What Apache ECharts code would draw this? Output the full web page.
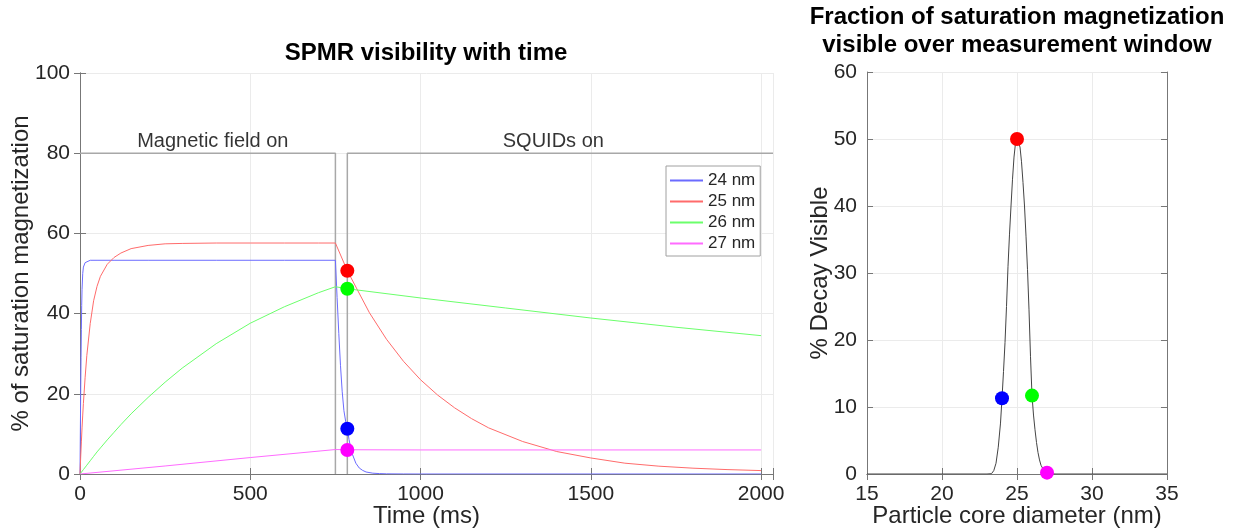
<!DOCTYPE html>
<html><head><meta charset="utf-8">
<script src="https://cdn.jsdelivr.net/npm/echarts@6.0.0/dist/echarts.min.js"></script>
<style>html,body{margin:0;padding:0;background:#fff}#c{width:1238px;height:531px}</style>
</head><body><div id="c"></div>
<script>
// ---- data ----
const seriesNames = ['24 nm', '25 nm', '26 nm', '27 nm'];
const lineColors = ['#6b6bff', '#ff6b6b', '#6bff6b', '#ff6bff'];
const dotColors = ['#0000ff', '#ff0000', '#00ff00', '#ff00ff'];

const t24 = [0,1,2,3,4,5,6,8,10,15,20,30,50,100,200,400,600,750,755,760,765,770,775,780,785,790,795,800,810,820,830,840,860,880,900,950,1000,1500,2000];
const v24 = [0,10,20,29,36,42,46,50,51.6,52.7,53.1,53.3,53.3,53.3,53.3,53.3,53.3,53.3,44,35,27,20.5,15.8,13.2,11.3,8.6,6.5,4.9,2.7,1.5,0.9,0.5,0.2,0.1,0.04,0.01,0,0,0];

const t25 = [0,2,4,6,8,10,15,20,30,40,50,60,80,100,120,150,200,250,300,400,500,600,700,750,785,850,900,950,1000,1050,1100,1150,1200,1300,1400,1500,1600,1700,1800,1900,2000];
const v25 = [0,4.2,8.0,11.5,14.7,17.6,24,29.5,37.5,43.2,46.8,49.3,52.3,54.0,55.1,56.2,57.0,57.4,57.5,57.6,57.6,57.6,57.6,57.6,50.7,40.2,33.6,28.1,23.5,19.7,16.5,13.8,11.5,8.1,5.6,4.0,2.7,1.95,1.45,1.1,0.85];

const t26 = [0,10,20,30,40,50,60,80,100,120,150,200,250,300,400,500,600,700,750,785,1000,1250,1500,1750,2000];
const v26 = [0,1.1,2.2,3.3,4.4,5.5,6.5,8.5,10.4,12.3,15.0,19.1,22.9,26.4,32.5,37.6,41.7,45.2,46.7,46.2,43.9,41.4,38.9,36.6,34.5];

const t27 = [0,250,500,750,785,1000,1500,2000];
const v27 = [0,2.0,4.1,6.1,6.05,6.0,6.0,6.0];

const dotTime = [785, 785, 785, 785];
const dotMag = [11.3, 50.7, 46.2, 6.0];

const fieldOnBoxT = [0, 750, 750];
const fieldOnBoxV = [80, 80, 0];
const squidBoxT = [785, 785, 2035];
const squidBoxV = [0, 80, 80];
const phaseLabels = ['Magnetic field on', 'SQUIDs on'];
const phaseLabelT = [390, 1390];
const phaseLabelV = [80, 80];

const diameters = [15,20,23,23.3,23.45,23.6,23.75,23.9,24,24.1,24.2,24.3,24.4,24.5,24.6,24.7,24.8,24.9,25,25.1,25.2,25.3,25.4,25.5,25.6,25.7,25.8,25.9,26,26.1,26.2,26.3,26.4,26.5,26.6,26.8,27,27.3,27.6,30,35];
const visible = [0,0,0,0.05,0.5,1.6,4.0,7.6,11.3,15.3,19.6,25.0,31.0,35.8,40.0,44.0,47.3,49.4,50.0,49.8,48.8,46.6,43.5,40.0,35.5,30.5,24.5,17.5,11.7,8.8,6.6,4.7,3.2,2.1,1.3,0.5,0.15,0.02,0,0,0];
const dotDiam = [24, 25, 26, 27];
const dotVis = [11.3, 50.0, 11.7, 0.2];

// ---- chart ----
const FONT = '"Liberation Sans", Arial, Helvetica, sans-serif';
const zip = (a, b) => a.map((x, i) => [x, b[i]]);
const axisCol = '#777';
const txtCol = '#262626';
const gridCol = '#ebebeb';

function mainX(grid, min, max, interval, name, step) {
  return {
    type: 'value', gridIndex: grid, min, max, interval,
    name, nameLocation: 'middle', nameGap: 30, nameMoveOverlap: false,
    nameTextStyle: { fontSize: 24, color: txtCol, fontFamily: FONT },
    axisLine: { show: true, lineStyle: { color: axisCol } },
    axisTick: { show: true, inside: true, length: 6, lineStyle: { color: axisCol } },
    axisLabel: { fontSize: 21, color: txtCol, fontFamily: FONT, margin: 10,
      formatter: v => (Math.abs(v / step - Math.round(v / step)) < 1e-6 ? String(v) : '') },
    splitLine: { show: true, lineStyle: { color: gridCol } }
  };
}
function mainY(grid, min, max, interval, name, gap) {
  return {
    type: 'value', gridIndex: grid, min, max, interval,
    name, nameLocation: 'middle', nameGap: gap, nameMoveOverlap: false,
    nameTextStyle: { fontSize: 24, color: txtCol, fontFamily: FONT },
    axisLine: { show: true, lineStyle: { color: axisCol } },
    axisTick: { show: true, inside: true, length: 6, lineStyle: { color: axisCol } },
    axisLabel: { fontSize: 21, color: txtCol, fontFamily: FONT, margin: 10 },
    splitLine: { show: true, lineStyle: { color: gridCol } }
  };
}
function sideAxis(grid, min, max, interval, position) {
  return {
    type: 'value', gridIndex: grid, min, max, interval, position,
    axisLine: { show: true, lineStyle: { color: axisCol } },
    axisTick: { show: true, inside: true, length: 6, lineStyle: { color: axisCol } },
    axisLabel: { show: false }, splitLine: { show: false }
  };
}

const timeSeries = [[t24, v24], [t25, v25], [t26, v26], [t27, v27]];

const series = [];
series.push({ type: 'line', xAxisIndex: 0, yAxisIndex: 0, data: zip(fieldOnBoxT, fieldOnBoxV),
  showSymbol: false, silent: true, lineStyle: { color: '#a8a8a8', width: 1.5 }, z: 2 });
series.push({ type: 'line', xAxisIndex: 0, yAxisIndex: 0, data: zip(squidBoxT, squidBoxV),
  showSymbol: false, silent: true, lineStyle: { color: '#a8a8a8', width: 1.5 }, z: 2 });
timeSeries.forEach((s, i) => {
  series.push({ name: seriesNames[i], type: 'line', xAxisIndex: 0, yAxisIndex: 0,
    data: zip(s[0], s[1]), showSymbol: false, color: lineColors[i],
    lineStyle: { color: lineColors[i], width: 1 }, z: 3 });
});
series.push({ type: 'scatter', xAxisIndex: 0, yAxisIndex: 0, symbolSize: 14, z: 5,
  data: dotTime.map((t, i) => ({ value: [t, dotMag[i]], itemStyle: { color: dotColors[i], opacity: 1 } })) });
series.push({ type: 'scatter', xAxisIndex: 0, yAxisIndex: 0, symbolSize: 0, z: 6,
  data: phaseLabelT.map((t, i) => ({ value: [t, phaseLabelV[i]], label: { formatter: phaseLabels[i] } })),
  label: { show: true, position: 'top', distance: 2, fontSize: 20, color: '#000', fontFamily: FONT } });

series.push({ type: 'line', xAxisIndex: 2, yAxisIndex: 2, data: zip(diameters, visible),
  showSymbol: false, lineStyle: { color: '#444', width: 1 }, z: 3 });
series.push({ type: 'scatter', xAxisIndex: 2, yAxisIndex: 2, symbolSize: 14, z: 5,
  data: dotDiam.map((d, i) => ({ value: [d, dotVis[i]], itemStyle: { color: dotColors[i], opacity: 1 } })) });

const option = {
  animation: false,
  backgroundColor: '#fff',
  textStyle: { fontFamily: FONT },
  grid: [
    { left: 80, top: 73, width: 693, height: 401, outerBoundsMode: 'none', containLabel: false },
    { left: 867, top: 72, width: 300, height: 402, outerBoundsMode: 'none', containLabel: false }
  ],
  xAxis: [
    mainX(0, 0, 2035, 500, 'Time (ms)', 500),
    sideAxis(0, 0, 2035, 500, 'top'),
    mainX(1, 15, 35, 5, 'Particle core diameter (nm)', 5),
    sideAxis(1, 15, 35, 5, 'top')
  ],
  yAxis: [
    mainY(0, 0, 100, 20, '% of saturation magnetization', 47),
    sideAxis(0, 0, 100, 20, 'right'),
    mainY(1, 0, 60, 10, '% Decay Visible', 35),
    sideAxis(1, 0, 60, 10, 'right')
  ],
  legend: {
    data: seriesNames, orient: 'vertical', left: 666, top: 166,
    icon: 'rect', itemWidth: 33, itemHeight: 2, itemGap: 4,
    padding: [6, 5, 4, 4], borderColor: '#a0a0a0', borderWidth: 1, backgroundColor: '#fff',
    textStyle: { fontSize: 17, color: txtCol, fontFamily: FONT }
  },
  graphic: [
    { type: 'text', x: 426, y: 53, style: { text: 'SPMR visibility with time', align: 'center', verticalAlign: 'middle',
      font: 'bold 24px ' + FONT, fill: '#000' } },
    { type: 'text', x: 1017, y: 17, style: { text: 'Fraction of saturation magnetization', align: 'center', verticalAlign: 'middle',
      font: 'bold 24px ' + FONT, fill: '#000' } },
    { type: 'text', x: 1017, y: 45, style: { text: 'visible over measurement window', align: 'center', verticalAlign: 'middle',
      font: 'bold 24px ' + FONT, fill: '#000' } }
  ],
  series
};
const chart = echarts.init(document.getElementById('c'), null, { renderer: 'canvas' });
chart.setOption(option);
</script></body></html>
